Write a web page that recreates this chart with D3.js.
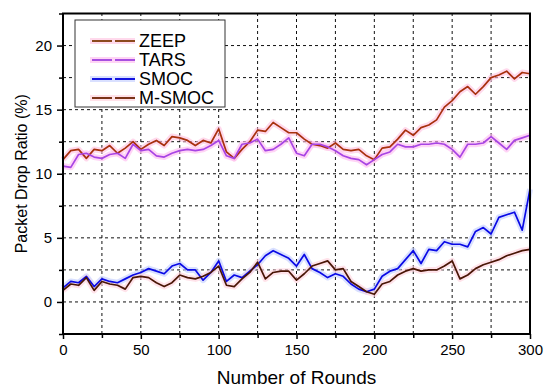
<!DOCTYPE html>
<html>
<head>
<meta charset="utf-8">
<script src="https://cdnjs.cloudflare.com/ajax/libs/d3/7.8.5/d3.min.js"></script>
<style>
  body { margin: 0; background: #fff; }
  svg { font-family: "Liberation Sans", Arial, sans-serif; }
</style>
</head>
<body>
<svg id="chart" width="550" height="390"></svg>
<script>
// rounds sampled every 5
var rounds = d3.range(0, 301, 5);

var zeep = [11.1, 11.8, 11.9, 11.2, 11.9, 11.8, 12.2, 11.6, 12.0, 12.5,
            11.9, 12.3, 12.6, 12.2, 12.9, 12.8, 12.6, 12.2, 12.6, 12.4,
            13.5, 11.7, 11.2, 11.9, 12.5, 13.4, 13.3, 14.0, 13.6, 13.2,
            13.2, 12.7, 12.3, 12.2, 12.0, 12.4, 11.9, 11.8, 11.9, 11.4,
            11.1, 12.0, 12.1, 12.7, 13.4, 13.0, 13.6, 13.8, 14.2, 15.2,
            15.7, 16.4, 16.8, 16.2, 16.8, 17.5, 17.7, 18.0, 17.4, 17.9, 17.8];

var tars = [10.6, 10.5, 11.5, 11.6, 11.3, 11.2, 11.5, 11.6, 11.2, 12.3,
            11.8, 11.9, 11.4, 11.3, 11.6, 11.8, 11.9, 11.8, 11.9, 12.2,
            12.6, 11.4, 11.2, 12.3, 12.4, 12.7, 11.8, 11.9, 12.3, 12.8,
            11.6, 11.4, 12.3, 12.3, 12.1, 11.8, 11.4, 11.2, 11.1, 10.7,
            11.1, 11.5, 11.7, 12.3, 12.1, 12.1, 12.3, 12.3, 12.4, 12.3,
            11.9, 11.3, 12.3, 12.3, 12.4, 12.9, 12.4, 11.9, 12.6, 12.8, 13.0];

var smoc = [1.1, 1.6, 1.5, 2.0, 1.2, 1.8, 1.6, 1.5, 1.8, 2.1,
            2.3, 2.6, 2.4, 2.2, 2.8, 3.0, 2.5, 2.5, 1.7, 2.3,
            3.2, 1.6, 2.1, 1.9, 2.4, 2.9, 3.6, 4.0, 3.7, 3.4,
            2.8, 3.7, 2.6, 2.3, 1.9, 2.2, 2.0, 1.4, 1.0, 0.8,
            1.0, 2.0, 2.4, 2.6, 3.3, 4.0, 3.0, 4.1, 4.0, 4.7,
            4.5, 4.5, 4.3, 5.5, 5.8, 5.3, 6.6, 6.8, 7.0, 5.6, 8.8];

var msmoc = [0.9, 1.4, 1.3, 1.9, 0.9, 1.6, 1.4, 1.3, 1.0, 1.9,
             2.0, 1.9, 1.5, 1.2, 1.5, 2.1, 1.9, 1.8, 2.0, 2.3,
             2.8, 1.3, 1.2, 1.8, 2.3, 3.1, 1.8, 2.3, 2.4, 2.4,
             1.7, 2.2, 2.8, 3.0, 3.2, 2.5, 2.6, 1.6, 1.2, 0.8,
             0.6, 1.4, 1.6, 2.1, 2.4, 2.6, 2.4, 2.5, 2.5, 2.8,
             3.2, 1.8, 2.1, 2.6, 2.9, 3.1, 3.3, 3.6, 3.8, 4.0, 4.1];

var seriesNames = ["ZEEP", "TARS", "SMOC", "M-SMOC"];
var seriesValues = [zeep, tars, smoc, msmoc];
var seriesColors = ["#a8300e", "#a844e4", "#0a0ae6", "#4a1606"];
var legendColors = ["#8c4a1e", "#a850e0", "#1414e0", "#7a3418"];
var haloColors = ["#ffc0e0", "#ffb8f0", "#c0ccff", "#ffd0dc"];

var xTicks = [0, 50, 100, 150, 200, 250, 300];
var yTicks = [0, 5, 10, 15, 20];

var margin = { left: 63, right: 20, top: 13.5, bottom: 56 };
var W = 550, H = 390;

var svg = d3.select("#chart");

var x = d3.scaleLinear().domain([0, 300]).range([margin.left, W - margin.right]);
var y = d3.scaleLinear().domain([-2.5, 22.5]).range([H - margin.bottom, margin.top]);

// grid
var grid = svg.append("g").attr("class", "grid");
grid.selectAll("line.v")
    .data(d3.range(25, 300, 25))
    .enter().append("line")
    .attr("x1", function (d) { return x(d); })
    .attr("x2", function (d) { return x(d); })
    .attr("y1", y(-2.5))
    .attr("y2", y(22.5))
    .attr("stroke", "#111")
    .attr("stroke-width", 1)
    .attr("stroke-dasharray", "3,3");
grid.selectAll("line.h")
    .data(d3.range(0, 22.5, 2.5))
    .enter().append("line")
    .attr("x1", x(0))
    .attr("x2", x(300))
    .attr("y1", function (d) { return y(d); })
    .attr("y2", function (d) { return y(d); })
    .attr("stroke", "#111")
    .attr("stroke-width", 1)
    .attr("stroke-dasharray", "3,3");

// series
var line = d3.line()
    .x(function (d) { return x(d[0]); })
    .y(function (d) { return y(d[1]); });

var gSeries = svg.append("g");
seriesValues.forEach(function (vals, i) {
    var pts = rounds.map(function (r, k) { return [r, vals[k]]; });
    gSeries.append("path")
        .datum(pts)
        .attr("d", line)
        .attr("fill", "none")
        .attr("stroke", haloColors[i])
        .attr("stroke-width", 6)
        .attr("stroke-linejoin", "round")
        .attr("opacity", 0.6);
});
seriesValues.forEach(function (vals, i) {
    var pts = rounds.map(function (r, k) { return [r, vals[k]]; });
    gSeries.append("path")
        .datum(pts)
        .attr("d", line)
        .attr("fill", "none")
        .attr("stroke", seriesColors[i])
        .attr("stroke-width", 1.7)
        .attr("stroke-linejoin", "round");
});

// axes
svg.append("g")
    .attr("transform", "translate(0," + y(-2.5) + ")")
    .call(d3.axisBottom(x).tickValues(xTicks).tickSize(5).tickPadding(5));
svg.append("g")
    .attr("transform", "translate(0," + y(-2.5) + ")")
    .call(d3.axisBottom(x).tickValues(d3.range(25, 300, 50)).tickSize(4).tickFormat(""));
svg.append("g")
    .attr("transform", "translate(" + x(0) + ",0)")
    .call(d3.axisLeft(y).tickValues(yTicks).tickSize(6).tickPadding(5));
svg.append("g")
    .attr("transform", "translate(" + x(0) + ",0)")
    .call(d3.axisLeft(y).tickValues([-2.5, 2.5, 7.5, 12.5, 17.5, 22.5]).tickSize(4).tickFormat(""));

svg.selectAll(".domain").remove();
svg.selectAll(".tick line").attr("stroke", "#000").attr("stroke-width", 1.5);
svg.selectAll(".tick text").attr("font-size", 15).attr("fill", "#000")
    .attr("font-family", "Liberation Sans, Arial, sans-serif");

// frame
svg.append("rect")
    .attr("x", x(0))
    .attr("y", y(22.5))
    .attr("width", x(300) - x(0))
    .attr("height", y(-2.5) - y(22.5))
    .attr("fill", "none")
    .attr("stroke", "#000")
    .attr("stroke-width", 2);

// axis titles
svg.append("text")
    .attr("x", (x(0) + x(300)) / 2)
    .attr("y", 384)
    .attr("text-anchor", "middle")
    .attr("font-size", 19)
    .text("Number of Rounds");
svg.append("text")
    .attr("transform", "translate(27," + ((y(-2.5) + y(22.5)) / 2) + ") rotate(-90)")
    .attr("text-anchor", "middle")
    .attr("font-size", 16)
    .text("Packet Drop Ratio (%)");

// legend
var legend = svg.append("g").attr("transform", "translate(75,20)");
legend.append("rect")
    .attr("width", 150)
    .attr("height", 87)
    .attr("fill", "#fff")
    .attr("stroke", "#333")
    .attr("stroke-width", 1);
seriesNames.forEach(function (name, i) {
    var ly = 21 + i * 19;
    legend.append("line")
        .attr("x1", 15).attr("x2", 60)
        .attr("y1", ly).attr("y2", ly)
        .attr("stroke", haloColors[i])
        .attr("stroke-width", 6)
        .attr("opacity", 0.6);
    legend.append("line")
        .attr("x1", 17).attr("x2", 60)
        .attr("y1", ly).attr("y2", ly)
        .attr("stroke", legendColors[i])
        .attr("stroke-width", 2)
        .attr("stroke-dasharray", "20,3");
    legend.append("text")
        .attr("x", 64)
        .attr("y", ly + 6)
        .attr("font-size", 18)
        .text(name);
});
</script>
</body>
</html>
